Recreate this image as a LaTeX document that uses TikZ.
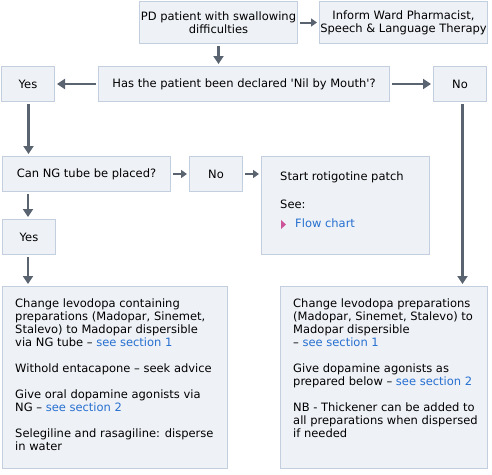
\documentclass[tikz,border=0pt]{standalone}
\usepackage{fontspec}
\setmainfont{DejaVu Sans}
\usetikzlibrary{arrows.meta,calc}
\definecolor{boxfill}{HTML}{EEF1F6}
\definecolor{boxline}{HTML}{C3CFDF}
\definecolor{arrcol}{HTML}{5A6470}
\definecolor{linkcol}{HTML}{2670D0}
\definecolor{tricol}{HTML}{CC5599}
\newcommand{\lnk}[1]{\textcolor{linkcol}{#1}}
\tikzset{
  box/.style={draw=boxline, fill=boxfill, line width=1pt, inner sep=0pt, anchor=north west, align=center, text=black},
  txt/.style={inner sep=0pt, anchor=north west, align=left, text=black},
  arr/.style={draw=arrcol, line width=2.6pt, -{Triangle[width=10pt,length=8pt]}, shorten <=2pt, shorten >=2pt},
  sarr/.style={draw=arrcol, line width=2pt, -{Triangle[width=8pt,length=6pt]}, shorten <=2pt, shorten >=2pt}
}
\begin{document}
\begin{tikzpicture}[x=1pt,y=-1pt,font=\fontsize{11.5}{13}\selectfont]
\useasboundingbox (0,0) rectangle (492,474);
% boxes
\node[box, minimum width=158pt, minimum height=42pt] (pd) at (139,1) {PD patient with swallowing\\difficulties};
\node[box, minimum width=168pt, minimum height=42pt] (inf) at (319,1) {Inform Ward Pharmacist,\\Speech \& Language Therapy};
\node[box, minimum width=53pt, minimum height=35pt] (yes1) at (1,66) {Yes};
\node[box, minimum width=291pt, minimum height=35pt] (nbm) at (98,66) {Has the patient been declared \textquotesingle Nil by Mouth\textquotesingle ?};
\node[box, minimum width=53pt, minimum height=35pt] (no1) at (433,66) {No};
\node[box, minimum width=168pt, minimum height=35pt] (ng) at (2,156) {Can NG tube be placed?};
\node[box, minimum width=53pt, minimum height=35pt] (no2) at (189,156) {No};
\node[box, minimum width=168pt, minimum height=98pt] (start) at (261,156) {};
\node[box, minimum width=53pt, minimum height=35pt] (yes2) at (2,219) {Yes};
\node[box, minimum width=225pt, minimum height=182pt] (lbig) at (2,286) {};
\node[box, minimum width=207pt, minimum height=182pt] (rbig) at (280,286) {};
% texts inside
\node[txt] (starttxt) at (280,172) {Start rotigotine patch\\[15pt]See:};
\node[txt] (flow) at (295,219) {\lnk{Flow chart}};
\fill[tricol] (281,220) -- (286,224.5) -- (281,229) -- cycle;
\node[txt] (ltxt) at (15,299) {Change levodopa containing\\preparations (Madopar, Sinemet,\\Stalevo) to Madopar dispersible\\via NG tube -- \lnk{see section 1}\\[13pt]Withold entacapone -- seek advice\\[13pt]Give oral dopamine agonists via\\NG -- \lnk{see section 2}\\[13pt]Selegiline and rasagiline: disperse\\in water};
\node[txt] (rtxt) at (293,299) {Change levodopa preparations\\(Madopar, Sinemet, Stalevo) to\\Madopar dispersible\\-- \lnk{see section 1}\\[13pt]Give dopamine agonists as\\prepared below -- \lnk{see section 2}\\[13pt]NB - Thickener can be added to\\all preparations when dispersed\\if needed};
% connectors
\draw[sarr] (pd.east) -- (inf.west);
\draw[arr] (pd.south) -- (pd.south |- nbm.north);
\draw[arr] (nbm.west) -- (yes1.east);
\draw[arr] (nbm.east) -- (no1.east -| no1.west);
\draw[arr] ($(yes1.south)+(0.5,0)$) -- ($(yes1.south |- ng.north)+(0.5,0)$);
\draw[arr] ($(no1.south)+(2.5,0)$) -- ($(no1.south |- rbig.north)+(2.5,0)$);
\draw[sarr] (ng.east) -- (no2.west);
\draw[sarr] (no2.east) -- (no2.east -| start.west);
\draw[arr] ($(ng.south west)+(26,0)$) -- ($(yes2.north west)+(26,0)$);
\draw[arr] ($(yes2.south west)+(26,0)$) -- ($(lbig.north west)+(26,0)$);
\end{tikzpicture}
\end{document}
